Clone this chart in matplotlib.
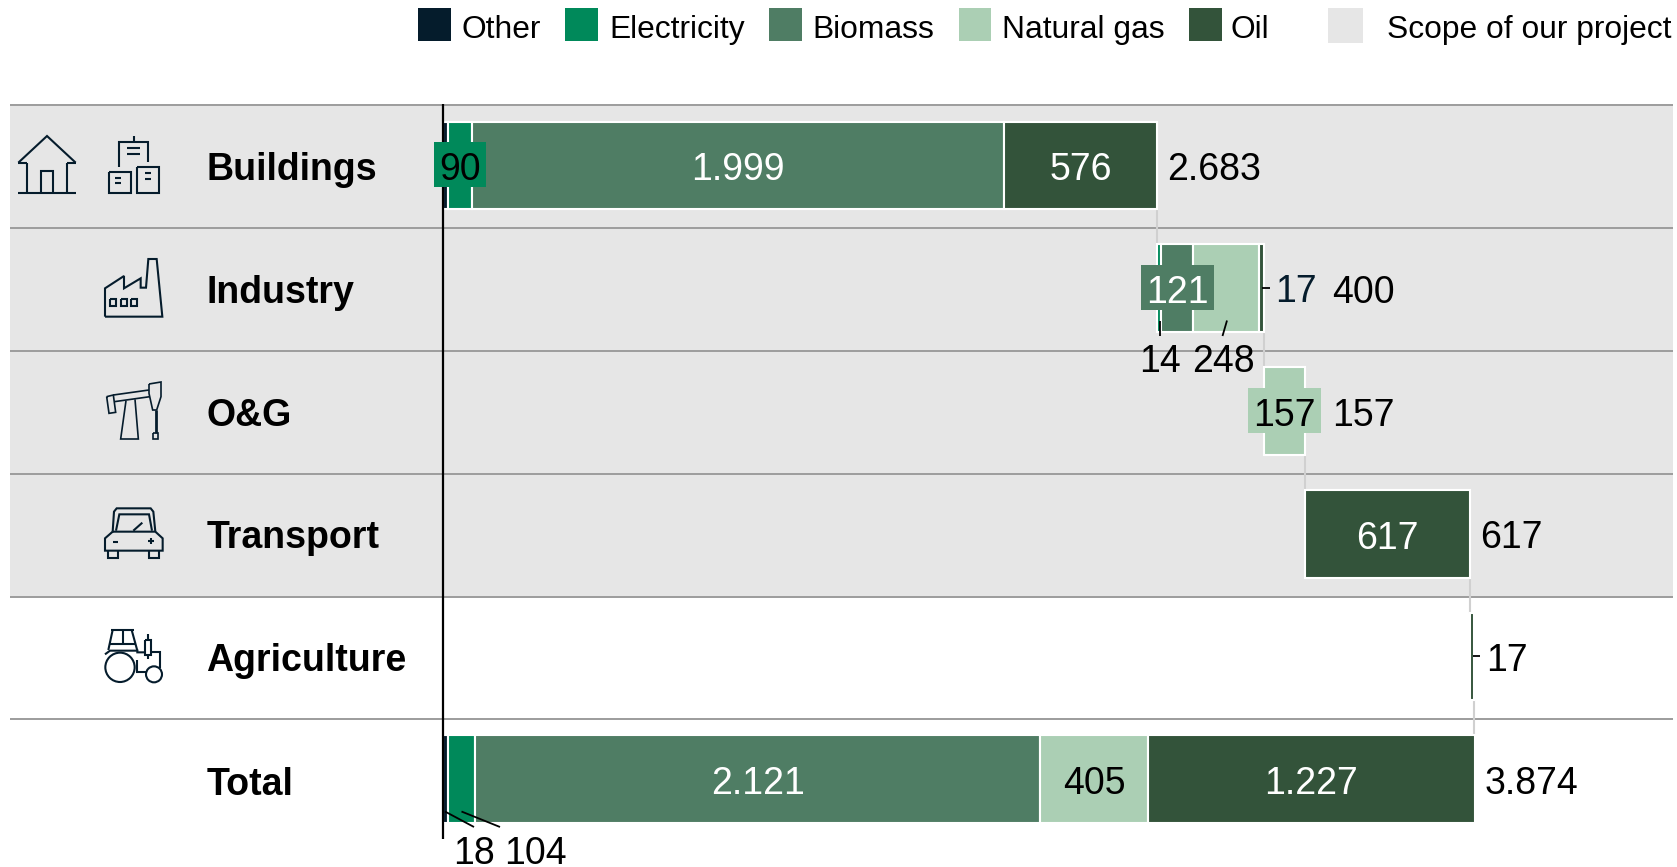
import matplotlib
matplotlib.use("Agg")
import matplotlib.pyplot as plt
from matplotlib.patches import Rectangle, Circle
from matplotlib.transforms import Affine2D

plt.rcParams['font.family'] = ['Liberation Sans', 'DejaVu Sans']

# ---------- data ----------
categories = ['Buildings', 'Industry', 'O&G', 'Transport', 'Agriculture', 'Total']
series_names = ['Other', 'Electricity', 'Biomass', 'Natural gas', 'Oil']
other = [18, 0, 0, 0, 0, 18]
electricity = [90, 14, 0, 0, 0, 104]
biomass = [1999, 121, 0, 0, 0, 2121]
natural_gas = [0, 248, 157, 0, 0, 405]
oil = [576, 17, 0, 617, 17, 1227]
row_starts = [0, 2683, 3083, 3240, 3857, 0]
row_totals = ['2.683', '400', '157', '617', '17', '3.874']
scope_label = 'Scope of our project'

C_OTHER, C_ELEC, C_BIO, C_GAS, C_OIL = '#051C2C', '#00895A', '#4F7D64', '#ABCFB4', '#33533A'
colors = [C_OTHER, C_ELEC, C_BIO, C_GAS, C_OIL]
series = [other, electricity, biomass, natural_gas, oil]
GREY = '#E6E6E6'
RULE = '#9C9C9C'
FS = 27.0

W, H = 1677, 867
fig = plt.figure(figsize=(W / 100, H / 100), dpi=100)
ax = fig.add_axes([0, 0, 1, 1])
X0, K = 443.0, 0.2662
Y0, P = 165.5, 122.75
ax.set_xlim(-X0 / K, (W - X0) / K)
ax.set_ylim((H - Y0) / P, -Y0 / P)
ax.axis('off')
tr = Affine2D().scale(1, -1).translate(0, H)   # pixel coordinates, y down


def pline(xs, ys, color='#051C2C', lw=1.5, z=8, **kw):
    ax.plot(xs, ys, color=color, lw=lw, transform=tr, zorder=z,
            solid_capstyle=kw.pop('cap', 'butt'), solid_joinstyle='miter', **kw)


def ptext(x, y, s, **kw):
    kw.setdefault('fontsize', FS)
    kw.setdefault('va', 'center_baseline')
    kw.setdefault('color', 'black')
    ax.text(x, y, s, transform=tr, zorder=12, **kw)


# ---------- background, rules ----------
ax.add_patch(Rectangle((10, 104), 1663, 492, fc=GREY, ec='none', transform=tr, zorder=0))
for y in [104.5, 228, 351, 474, 596.5, 719]:
    pline([10, 1673], [y, y], color=RULE, lw=1.4, z=1)

# ---------- connectors ----------
for i in range(5):
    end = row_starts[i] + sum(s[i] for s in series)
    if i == 4:
        end = 3874
    ax.plot([end, end], [i + 0.36, i + 0.64], color='#D0D0D0', lw=1.5, zorder=2)

# ---------- bars ----------
for i in range(len(categories)):
    left = row_starts[i]
    for vals, col in zip(series, colors):
        v = vals[i]
        if v:
            ax.barh(i, v, left=left, height=0.715, color=col,
                    edgecolor='white', linewidth=1.5, zorder=3)
            left += v

# axis line
pline([443, 443], [104, 839], color='black', lw=1.6, z=9)


# ---------- value labels ----------
def seg_center(i, k):
    return row_starts[i] + sum(s[i] for s in series[:k]) + series[k][i] / 2


def inbar(i, k, s, color, box=None):
    x = seg_center(i, k)
    if box:
        px = ax.transData.transform((x, i))
        cx, cy = px[0], H - px[1]
        ax.add_patch(Rectangle((cx - box / 2, cy - 23.5), box, 45, fc=colors[k], ec='none',
                               transform=tr, zorder=10))
    ax.text(x, i + 0.008, s, ha='center', va='center_baseline', fontsize=FS, color=color, zorder=12)


inbar(0, 1, '90', 'black', box=52)
inbar(0, 2, '1.999', 'white')
inbar(0, 4, '576', 'white')
inbar(1, 2, '121', 'white', box=73)
inbar(2, 3, '157', 'black', box=73)
inbar(3, 4, '617', 'white')
inbar(5, 2, '2.121', 'white')
inbar(5, 3, '405', 'black')
inbar(5, 4, '1.227', 'white')

# row totals
total_lefts = [1167, 1332, 1332, 1480, 1486, 1485]
for i, s in enumerate(row_totals):
    ptext(total_lefts[i], Y0 + P * i + 0.5, s, ha='left')

# external labels + leaders
ptext(1160, 358.5, '14', ha='center')
pline([1159.5, 1159.5], [321, 336], color='black', lw=1.3)
ptext(1223, 358.5, '248', ha='center')
pline([1227, 1222.5], [320.5, 336], color='black', lw=1.3)
ptext(1296, 288, '17', ha='center', color=C_OTHER)
pline([1262, 1270], [287.5, 287.5], color='black', lw=1.3)
pline([1472.5, 1480], [655.5, 655.5], color='black', lw=1.3)
ptext(474, 850, '18', ha='center')
ptext(535, 850, '104', ha='center')
pline([445, 474], [811.5, 827], color='black', lw=1.3, z=11)
pline([461.5, 500], [811.5, 827], color='black', lw=1.3, z=11)

# category labels
for i, c in enumerate(categories):
    ptext(206.5, Y0 + P * i + (0.5 if i < 5 else 1.5), c, ha='left', fontweight='bold')

# ---------- legend ----------
sw = [(418, 451), (565, 598), (769, 802), (959, 991), (1189, 1222)]
tx = [461.5, 609, 812, 1001.5, 1231]
for (a, b), t, n, col in zip(sw, tx, series_names, colors):
    ax.add_patch(Rectangle((a, 8), b - a, 33, fc=col, ec='none', transform=tr, zorder=5))
    ptext(t, 26.5, n, ha='left', fontsize=22.9)
ax.add_patch(Rectangle((1328, 8), 35, 35, fc=GREY, ec='none', transform=tr, zorder=5))
ptext(1387, 26.5, scope_label, ha='left', fontsize=22.9)


# ---------- icons (outline drawings, zoom-crop coordinates) ----------
def ic(ox, oy, f=3.0):
    def draw(pts, lw=1.5):
        pline([ox + p[0] / f for p in pts], [oy + p[1] / f for p in pts], lw=lw)
    return draw


def rect(a, b, c, d):
    return [(a, b), (c, b), (c, d), (a, d), (a, b)]


d = ic(0, 90)
# house
d([(55, 218), (141, 138), (227, 218)])
d([(55, 218), (80, 218)]); d([(202, 218), (227, 218)])
d([(80, 218), (80, 310)]); d([(202, 218), (202, 310)])
d([(55, 310), (227, 310)])
d([(122, 310), (122, 242), (160, 242), (160, 310)])
# city buildings
d([(357, 230), (357, 155), (445, 155), (445, 215)])
d([(401, 138), (401, 155)])
d([(382, 175), (420, 175)]); d([(382, 192), (420, 192)])
d(rect(326, 246, 392, 310)); d(rect(410, 230, 476, 310))
d([(345, 263), (363, 263)]); d([(345, 280), (363, 280)])
d([(436, 250), (452, 250)]); d([(436, 268), (452, 268)])
# factory
d([(315, 680), (315, 595), (372, 558), (372, 595), (422, 565), (422, 593), (438, 593),
   (445, 507), (470, 507), (487, 680), (315, 680)])
for a in (330, 362, 394):
    d(rect(a, 627, a + 18, 647))

d = ic(0, 360)
# pump jack
d([(320, 110), (340, 105), (347, 157), (327, 160), (320, 110)], lw=1.2)
d([(340, 105), (447, 90)], lw=1.2); d([(343, 125), (450, 110)], lw=1.2)
d([(447, 72), (483, 66), (483, 110), (470, 150), (458, 150), (447, 100), (447, 72)], lw=1.2)
d([(378, 122), (362, 237), (415, 237), (405, 118)], lw=1.2)
d([(467, 150), (467, 218)], lw=2.0)
d(rect(458, 218, 475, 237), lw=1.2)
# car
d([(338, 515), (342, 455), (350, 445), (452, 445), (460, 455), (466, 515)])
d([(348, 512), (358, 463), (447, 463), (456, 512)])
d([(338, 515), (466, 515), (488, 535), (488, 572), (315, 572), (315, 535), (338, 515)])
d([(325, 572), (325, 595), (355, 595), (355, 572)])
d([(447, 572), (447, 595), (477, 595), (477, 572)])
d([(340, 545), (355, 545)]); d([(443, 543), (463, 543)]); d([(453, 533), (453, 553)])
d([(400, 512), (427, 488)])

d = ic(90, 620)
# tractor
d([(62, 30), (132, 30)])
d([(68, 30), (55, 90)]); d([(125, 30), (142, 92)])
d([(98, 30), (98, 72)]); d([(60, 72), (135, 72)])
d([(45, 103), (60, 92), (142, 92), (142, 97), (165, 97)])
d([(182, 95), (210, 95), (210, 145)])
d([(142, 120), (142, 155), (170, 155)])
d(rect(165, 60, 182, 105)); d([(173, 42), (173, 60)]); d([(173, 105), (173, 118)])
ax.add_patch(Circle((90 + 90 / 3, 620 + 142 / 3), 44 / 3, fc='none', ec=C_OTHER, lw=1.5, transform=tr, zorder=8))
ax.add_patch(Circle((90 + 192 / 3, 620 + 163 / 3), 24 / 3, fc='none', ec=C_OTHER, lw=1.5, transform=tr, zorder=8))

fig.savefig('out.png', dpi=100)
